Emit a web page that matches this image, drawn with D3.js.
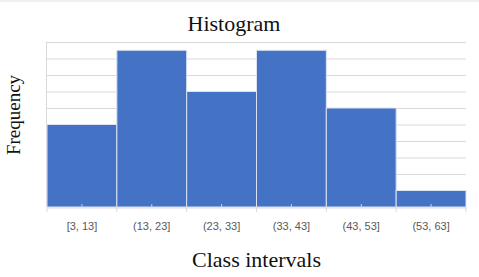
<html>
<head>
<script src="https://d3js.org/d3.v7.min.js"></script>
<style>
  body { margin: 0; background: white; }
</style>
</head>
<body>
<svg width="479" height="277"></svg>
<script>
var classes = ["[3, 13]", "(13, 23]", "(23, 33]", "(33, 43]", "(43, 53]", "(53, 63]"]
var frequency = [10, 19, 14, 19, 12, 2]
var yTicks = [0, 2, 4, 6, 8, 10, 12, 14, 16, 18, 20]

const svg = d3.select("svg")
const plotLeft = 47, plotRight = 466, plotTop = 42, plotBottom = 207

var x = d3.scaleBand().domain(classes).range([plotLeft, plotRight]).padding(0)
var y = d3.scaleLinear().domain([0, 20]).range([plotBottom, plotTop])

// faint frame line at top of picture
svg.append("line")
  .attr("x1", 0).attr("x2", 479).attr("y1", 1).attr("y2", 1)
  .style("stroke", "#f0f0f0").style("stroke-width", 2)

// gridlines
svg.append("g").selectAll("line").data(yTicks.slice(1)).enter().append("line")
  .attr("x1", plotLeft).attr("x2", plotRight)
  .attr("y1", d => y(d) + 0.5).attr("y2", d => y(d) + 0.5)
  .style("stroke", "#d9d9d9").style("stroke-width", 1)

// left border
svg.append("line")
  .attr("x1", plotLeft - 0.5).attr("x2", plotLeft - 0.5).attr("y1", plotTop).attr("y2", plotBottom)
  .style("stroke", "#d9d9d9")

// bars
svg.append("g").selectAll("rect").data(frequency).enter().append("rect")
  .attr("x", (d, i) => x(classes[i]))
  .attr("width", x.bandwidth())
  .attr("y", d => y(d))
  .attr("height", d => plotBottom - y(d))
  .style("fill", "#4472c4")
  .style("stroke", "#dbe3f3")
  .style("stroke-width", 1)

// x axis
var xAxis = svg.append("g")
  .attr("transform", "translate(0," + (plotBottom + 0.5) + ")")
  .call(d3.axisBottom(x).tickSize(0).tickPadding(15))
xAxis.select(".domain").style("stroke", "#d9d9d9")
xAxis.selectAll("text")
  .style("font-family", "'Liberation Sans', Arial, sans-serif")
  .style("font-size", "11px")
  .style("fill", "#595959")

// ticks at class boundaries
var edges = classes.map(c => x(c)).concat([plotRight])
svg.append("g").selectAll("line").data(edges).enter().append("line")
  .attr("x1", d => d).attr("x2", d => d)
  .attr("y1", plotBottom).attr("y2", plotBottom + 5)
  .style("stroke", "#d9d9d9")

// small marks at class centres
svg.append("g").selectAll("line").data(classes).enter().append("line")
  .attr("x1", d => x(d) + x.bandwidth() / 2).attr("x2", d => x(d) + x.bandwidth() / 2)
  .attr("y1", plotBottom - 3).attr("y2", plotBottom)
  .style("stroke", "#c9d3e8")

// titles
svg.append("text")
  .attr("x", 234).attr("y", 31)
  .attr("text-anchor", "middle")
  .style("font-family", "'Liberation Serif', 'Times New Roman', serif")
  .style("font-size", "22px")
  .style("fill", "#111")
  .text("Histogram")

svg.append("text")
  .attr("x", (plotLeft + plotRight) / 2).attr("y", 267)
  .attr("text-anchor", "middle")
  .style("font-family", "'Liberation Serif', 'Times New Roman', serif")
  .style("font-size", "22px")
  .style("fill", "#111")
  .text("Class intervals")

svg.append("text")
  .attr("transform", "translate(20,115) rotate(-90)")
  .attr("text-anchor", "middle")
  .style("font-family", "'Liberation Serif', 'Times New Roman', serif")
  .style("font-size", "19px")
  .style("fill", "#111")
  .text("Frequency")
</script>
</body>
</html>
